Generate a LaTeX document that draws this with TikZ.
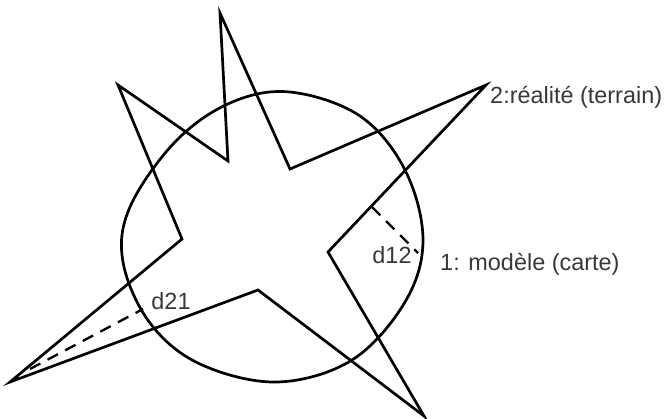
\documentclass[tikz,border=0pt]{standalone}
\usepackage{fontspec}
\setmainfont{Liberation Sans}
\usetikzlibrary{calc}

\tikzset{
  trait/.style={line width=2.3pt, line join=miter},
  ecart/.style={line width=2pt, dash pattern=on 10pt off 7pt},
  etiq/.style={text=black!78, font=\fontsize{20}{24}\selectfont, inner sep=0pt}
}

\begin{document}
\begin{tikzpicture}[x=0.03cm, y=-0.03cm]
  \useasboundingbox (0,0) rectangle (666,419);
  % sommets de l'etoile (terrain)
  \coordinate (T1) at (220,13);
  \coordinate (I1) at (290,169);
  \coordinate (T2) at (486,85);
  \coordinate (I2) at (328,252);
  \coordinate (T3) at (424,416);
  \coordinate (I3) at (258,290);
  \coordinate (T4) at (10,382);
  \coordinate (I4) at (182,239);
  \coordinate (T5) at (118,85);
  \coordinate (I5) at (228,161);
  \draw[trait] (T1) -- (I1) -- (T2) -- (I2) -- (T3) -- (I3) -- (T4) -- (I4) -- (T5) -- (I5) -- cycle;
  % contour du modele (carte)
  \draw[trait] plot[smooth cycle, tension=0.6] coordinates {
    (290,92) (360,116) (405,170) (423,240) (405,302) (352,360)
    (277,382) (200,364) (150,323) (123,262) (130,207) (175,142) (230,103)};
  % ecarts
  \coordinate (A12) at (372,207);
  \coordinate (B12) at (418,253);
  \coordinate (A21) at (30,369);
  \coordinate (B21) at (143,309);
  \draw[ecart] (A12) -- (B12);
  \draw[ecart] (A21) -- (B21);
  \node[etiq, anchor=west] (reel) at (490,97) {2:réalité (terrain)};
  \node[etiq, anchor=west] (carte) at (440,264) {1: modèle (carte)};
  \node[etiq] (d12) at (392,255) {d12};
  \node[etiq] (d21) at (171,301) {d21};
\end{tikzpicture}
\end{document}
